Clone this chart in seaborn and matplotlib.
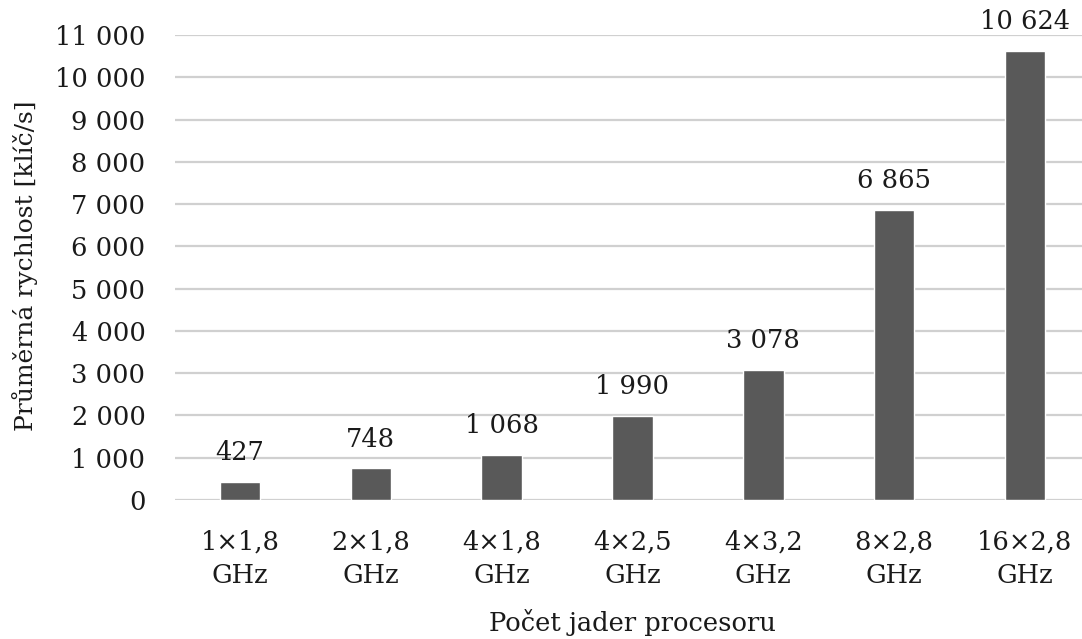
import matplotlib
matplotlib.use("Agg")
import matplotlib.pyplot as plt
from matplotlib.ticker import FixedLocator, FuncFormatter
import seaborn as sns

# Configurations: cores x clock
categories = ["1×1,8\nGHz", "2×1,8\nGHz", "4×1,8\nGHz", "4×2,5\nGHz",
              "4×3,2\nGHz", "8×2,8\nGHz", "16×2,8\nGHz"]
speeds = [427, 748, 1068, 1990, 3078, 6865, 10624]
y_ticks = list(range(0, 11001, 1000))

sns.set_theme(style="white")
plt.rcParams["font.family"] = ["DejaVu Serif"]

W, H = 1082, 639
fig = plt.figure(figsize=(W / 100, H / 100), dpi=100)
left, right, bottom, top = 174.6, 1090.4, 500, 35
ax = fig.add_axes([left / W, (H - bottom) / H, (right - left) / W, (bottom - top) / H])

sns.barplot(x=categories, y=speeds, color="#595959", width=0.31,
            saturation=1, ax=ax, zorder=3)

def fmt(v):
    return f"{int(v):,}".replace(",", " ")

ax.set_ylim(0, 11000)
ax.set_xlim(-0.5, len(categories) - 0.5)
ax.yaxis.set_major_locator(FixedLocator(y_ticks))
ax.yaxis.set_major_formatter(FuncFormatter(lambda v, p: fmt(v)))
ax.grid(axis="y", color="#d0d0d0", linewidth=1.6, zorder=0)
ax.grid(axis="x", visible=False)
for s in ax.spines.values():
    s.set_visible(False)

ax.tick_params(axis="y", length=0, pad=21, labelsize=18.5, labelcolor="#1a1a1a")
ax.tick_params(axis="x", length=0, pad=21, labelsize=18.5, labelcolor="#1a1a1a")
for lbl in ax.get_xticklabels():
    lbl.set_linespacing(1.45)

ax.bar_label(ax.containers[0], labels=[fmt(v) for v in speeds], padding=12,
             fontsize=18.5, color="#1a1a1a")

ax.set_xlabel("")
ax.set_ylabel("")
fig.text(25 / W, (H - 266) / H, "Průměrná rychlost [klíč/s]", rotation=90,
         ha="center", va="center", fontsize=18, color="#1a1a1a")
fig.text(632 / W, (H - 622) / H, "Počet jader procesoru",
         ha="center", va="center", fontsize=18.5, color="#1a1a1a")

fig.savefig("out.png", dpi=100)
